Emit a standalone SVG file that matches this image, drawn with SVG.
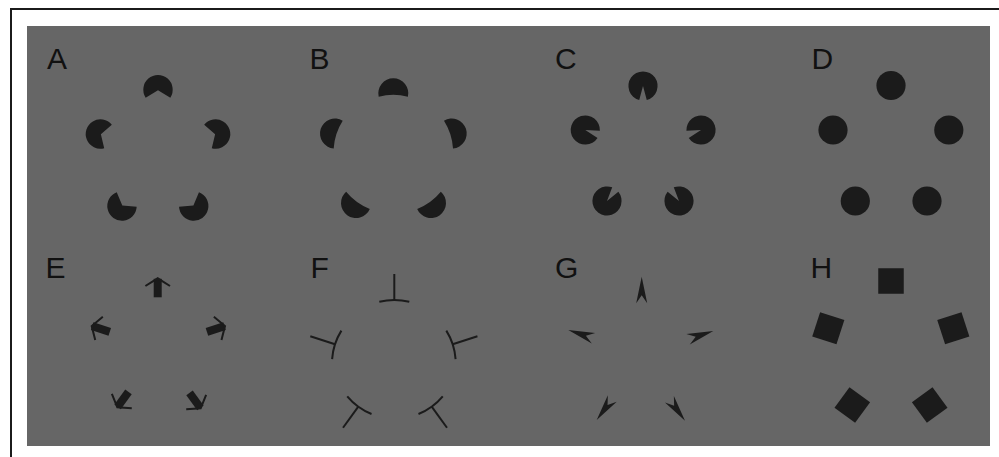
<svg xmlns="http://www.w3.org/2000/svg" xmlns:xlink="http://www.w3.org/1999/xlink" width="999" height="457" viewBox="0 0 999 457">
<style>
.lbl{font-family:"Liberation Sans",Arial,sans-serif;font-size:30px;fill:#111}
.ink{fill:#1b1b1b}
.line{fill:none;stroke:#1b1b1b;stroke-width:2;stroke-linecap:butt}
</style>
<defs>
<path id="pacA" class="ink" d="M0 0.5 L12.33 8.01 A14.7 14.7 0 1 0 -12.33 8.01 Z"/>
<path id="segB" class="ink" d="M-14.62 3.36 A15 15 0 1 1 14.62 3.36 A58.5 58.5 0 0 0 -14.62 3.36 Z"/>
<path id="pacC" class="ink" d="M0 0 L3.78 14.1 A14.6 14.6 0 1 0 -3.78 14.1 Z"/>
<circle id="dotD" class="ink" r="14.6"/>
<g id="arrE"><rect class="ink" x="-4" y="0.5" width="8" height="18.5"/><polyline class="line" points="-12.3,7.7 0,0 12.3,7.7"/></g>
<g id="tF"><line class="line" x1="0" y1="0" x2="0" y2="-26"/><path class="line" d="M-15 1.84 A62 62 0 0 1 15 1.84"/></g>
<polygon id="dartG" class="ink" points="0,0 5.5,26.5 0,18.5 -5.5,26.5"/>
<rect id="sqH" class="ink" x="-12.75" y="-12.75" width="25.5" height="25.5"/>
</defs>
<rect x="0" y="0" width="999" height="457" fill="#ffffff"/>
<path d="M10 9 H999 M11 8 V457" fill="none" stroke="#1b1b1b" stroke-width="2"/>
<rect x="27" y="26" width="963" height="420" fill="#666666"/>
<g id="connectors"/>
<g id="panelA">
<text class="lbl" x="47" y="69">A</text>
<use xlink:href="#pacA" transform="translate(158,89.7)"/>
<use xlink:href="#pacA" transform="translate(215.6,134) rotate(72)"/>
<use xlink:href="#pacA" transform="translate(193.7,206) rotate(144)"/>
<use xlink:href="#pacA" transform="translate(122,206) rotate(216)"/>
<use xlink:href="#pacA" transform="translate(100.4,134) rotate(288)"/>
</g>
<g id="panelB">
<text class="lbl" x="309.5" y="69">B</text>
<use xlink:href="#segB" transform="translate(393.3,93.3)"/>
<use xlink:href="#segB" transform="translate(451.7,133.5) rotate(72)"/>
<use xlink:href="#segB" transform="translate(431,203) rotate(144)"/>
<use xlink:href="#segB" transform="translate(356,203) rotate(216)"/>
<use xlink:href="#segB" transform="translate(335,133.5) rotate(288)"/>
</g>
<g id="panelC">
<text class="lbl" x="555" y="69">C</text>
<use xlink:href="#pacC" transform="translate(643,86)"/>
<use xlink:href="#pacC" transform="translate(701,130) rotate(72)"/>
<use xlink:href="#pacC" transform="translate(679,201) rotate(144)"/>
<use xlink:href="#pacC" transform="translate(607,201) rotate(216)"/>
<use xlink:href="#pacC" transform="translate(585.3,130) rotate(288)"/>
</g>
<g id="panelD">
<text class="lbl" x="811.5" y="69">D</text>
<use xlink:href="#dotD" transform="translate(891,85.5)"/>
<use xlink:href="#dotD" transform="translate(948.8,130)"/>
<use xlink:href="#dotD" transform="translate(927,201)"/>
<use xlink:href="#dotD" transform="translate(855.3,201)"/>
<use xlink:href="#dotD" transform="translate(833,130)"/>
</g>
<g id="panelE">
<text class="lbl" x="45.5" y="278">E</text>
<use xlink:href="#arrE" transform="translate(157.7,278.3)"/>
<use xlink:href="#arrE" transform="translate(225,326) rotate(72)"/>
<use xlink:href="#arrE" transform="translate(200.7,408.3) rotate(144)"/>
<use xlink:href="#arrE" transform="translate(117.3,407.3) rotate(216)"/>
<use xlink:href="#arrE" transform="translate(91.7,326) rotate(288)"/>
</g>
<g id="panelF">
<text class="lbl" x="310.5" y="278">F</text>
<use xlink:href="#tF" transform="translate(394.3,300)"/>
<use xlink:href="#tF" transform="translate(452.7,344.3) rotate(72)"/>
<use xlink:href="#tF" transform="translate(431.7,406.7) rotate(144)"/>
<use xlink:href="#tF" transform="translate(358.3,406.7) rotate(216)"/>
<use xlink:href="#tF" transform="translate(335,344.3) rotate(288)"/>
</g>
<g id="panelG">
<text class="lbl" x="555" y="278">G</text>
<use xlink:href="#dartG" transform="translate(641.7,276.7)"/>
<use xlink:href="#dartG" transform="translate(713.3,331) rotate(72)"/>
<use xlink:href="#dartG" transform="translate(685,420.7) rotate(144)"/>
<use xlink:href="#dartG" transform="translate(596.7,420) rotate(216)"/>
<use xlink:href="#dartG" transform="translate(568.3,330) rotate(288)"/>
</g>
<g id="panelH">
<text class="lbl" x="810.5" y="278">H</text>
<use xlink:href="#sqH" transform="translate(891,281)"/>
<use xlink:href="#sqH" transform="translate(953.3,328.3) rotate(72)"/>
<use xlink:href="#sqH" transform="translate(929.7,405) rotate(144)"/>
<use xlink:href="#sqH" transform="translate(852.3,405) rotate(216)"/>
<use xlink:href="#sqH" transform="translate(828.3,328.3) rotate(288)"/>
</g>
</svg>
